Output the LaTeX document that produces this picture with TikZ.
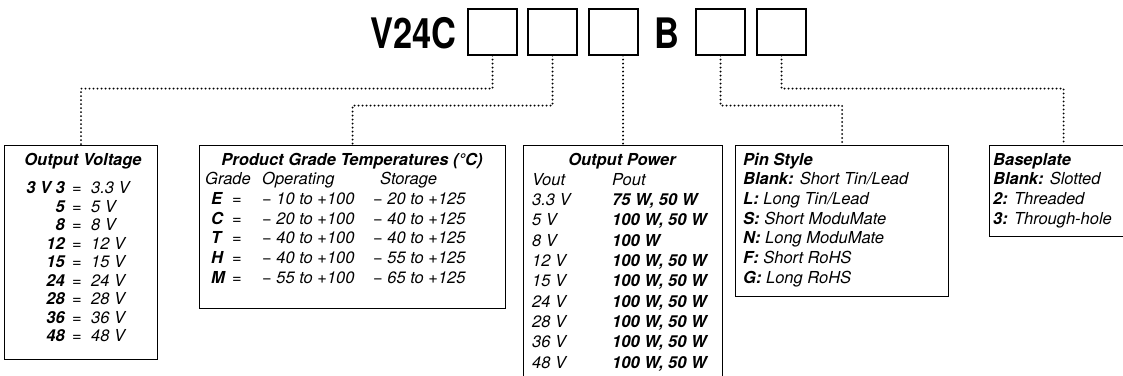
\documentclass[tikz,border=0pt]{standalone}
\usepackage{fontspec}
\setmainfont{TeX Gyre Heros}
\newfontfamily\condfont{TeX Gyre Heros}[FakeStretch=0.82]
\usetikzlibrary{positioning}

\begin{document}
\begin{tikzpicture}[x=1pt,y=-1pt,
  codebox/.style={draw, line width=1.1pt, minimum width=49pt, minimum height=46pt, inner sep=0pt},
  catbox/.style={draw, line width=1.1pt, anchor=north west, inner sep=0pt},
  conn/.style={line width=2.1pt, dash pattern=on 0pt off 4pt, line cap=round},
  txt/.style={font=\fontsize{16.5}{19}\selectfont\itshape, inner sep=0pt},
  hd/.style={font=\fontsize{16.5}{19}\selectfont\bfseries\itshape, inner sep=0pt},
  big/.style={font=\fontsize{42}{46}\selectfont\condfont\bfseries, inner sep=0pt}]
\useasboundingbox (0,0) rectangle (1123,375);
\def\ty{165}
\def\lh{19.7}
\def\lp{20.3}
\def\lv{18.5}
% part number
\node[big, anchor=base east] (pre) at (457,48) {V24C};
\foreach \n/\x in {1/492.5,2/552.5,3/613.5,4/720.5,5/781.5}{
  \node[codebox] (c\n) at (\x,32) {};
}
\node[big, anchor=base] (bb) at (667,48) {B};
% option boxes
\node[catbox, minimum width=153pt, minimum height=214pt] (ov) at (4,145) {};
\node[catbox, minimum width=306pt, minimum height=163pt] (pg) at (199,145) {};
\node[catbox, minimum width=199pt, minimum height=240pt] (op) at (523,145) {};
\node[catbox, minimum width=213pt, minimum height=151pt] (ps) at (735,145) {};
\node[catbox, minimum width=148pt, minimum height=91pt] (bp) at (989,145) {};
% connectors
\draw[conn] (c1.south) -- ++(0,33) -| (ov.north);
\draw[conn] (c2.south) -- ++(0,50) -| (pg.north);
\draw[conn] (op.north |- c3.south) -- (op.north);
\draw[conn] (c4.south) -- ++(0,50) -| (ps.north);
\draw[conn] (c5.south) -- ++(0,33) -| (bp.north);
% output voltage
\node[hd, anchor=base] (ov-t) at (83,\ty) {Output Voltage};
\foreach \i/\c/\v in {1/3 V 3/3.3,2/5/5,3/8/8,4/12/12,5/15/15,6/24/24,7/28/28,8/36/36,9/48/48}{
  \node[hd, anchor=base east] (ov-c\i) at (65,{\ty+10+\i*\lv}) {\c};
  \node[txt, anchor=base] (ov-e\i) at (77,{\ty+10+\i*\lv}) {=};
  \node[txt, anchor=base west] (ov-v\i) at (91,{\ty+10+\i*\lv}) {\v\ V};
}
% product grade
\node[hd, anchor=base] (pg-t) at (352,\ty) {Product Grade Temperatures (°C)};
\node[txt, anchor=base west] (pg-h1) at (205,{\ty+\lh}) {Grade};
\node[txt, anchor=base west] (pg-h2) at (262,{\ty+\lh}) {Operating};
\node[txt, anchor=base west] (pg-h3) at (380,{\ty+\lh}) {Storage};
\foreach \i/\g/\o/\s in {1/E/10/20,2/C/20/40,3/T/40/40,4/H/40/55,5/M/55/65}{
  \node[hd, anchor=base west] (pg-g\i) at (211,{\ty+(\i+1)*\lh}) {\g};
  \node[txt, anchor=base] (pg-e\i) at (237,{\ty+(\i+1)*\lh}) {=};
  \node[txt, anchor=base west] (pg-o\i) at (262,{\ty+(\i+1)*\lh}) {− \o\ to +100};
  \node[txt, anchor=base west] (pg-s\i) at (373,{\ty+(\i+1)*\lh}) {− \s\ to +125};
}
% output power
\node[hd, anchor=base] (op-t) at (622,\ty) {Output Power};
\node[txt, anchor=base west] (op-h1) at (532,{\ty+\lp}) {Vout};
\node[txt, anchor=base west] (op-h2) at (612,{\ty+\lp}) {Pout};
\foreach \i/\v/\p in {1/3.3/75 W{,} 50 W,2/5/100 W{,} 50 W,3/8/100 W,4/12/100 W{,} 50 W,5/15/100 W{,} 50 W,
  6/24/100 W{,} 50 W,7/28/100 W{,} 50 W,8/36/100 W{,} 50 W,9/48/100 W{,} 50 W}{
  \node[txt, anchor=base west] (op-v\i) at (532,{\ty+(\i+1)*\lp}) {\v\ V};
  \node[hd, anchor=base west] (op-p\i) at (612,{\ty+(\i+1)*\lp}) {\p};
}
% pin style
\node[hd, anchor=base west] (ps-t) at (743,\ty) {Pin Style};
\foreach \i/\k/\d in {1/Blank/{Short Tin/Lead},2/L/{Long Tin/Lead},3/S/Short ModuMate,4/N/Long ModuMate,5/F/Short RoHS,6/G/Long RoHS}{
  \node[txt, anchor=base west] (ps-r\i) at (743,{\ty+\i*\lh}) {\textbf{\k:} \d};
}
% baseplate
\node[hd, anchor=base west] (bp-t) at (993,\ty) {Baseplate};
\foreach \i/\k/\d in {1/Blank/Slotted,2/2/Threaded,3/3/Through-hole}{
  \node[txt, anchor=base west] (bp-r\i) at (993,{\ty+\i*\lh}) {\textbf{\k:} \d};
}
\end{tikzpicture}
\end{document}
